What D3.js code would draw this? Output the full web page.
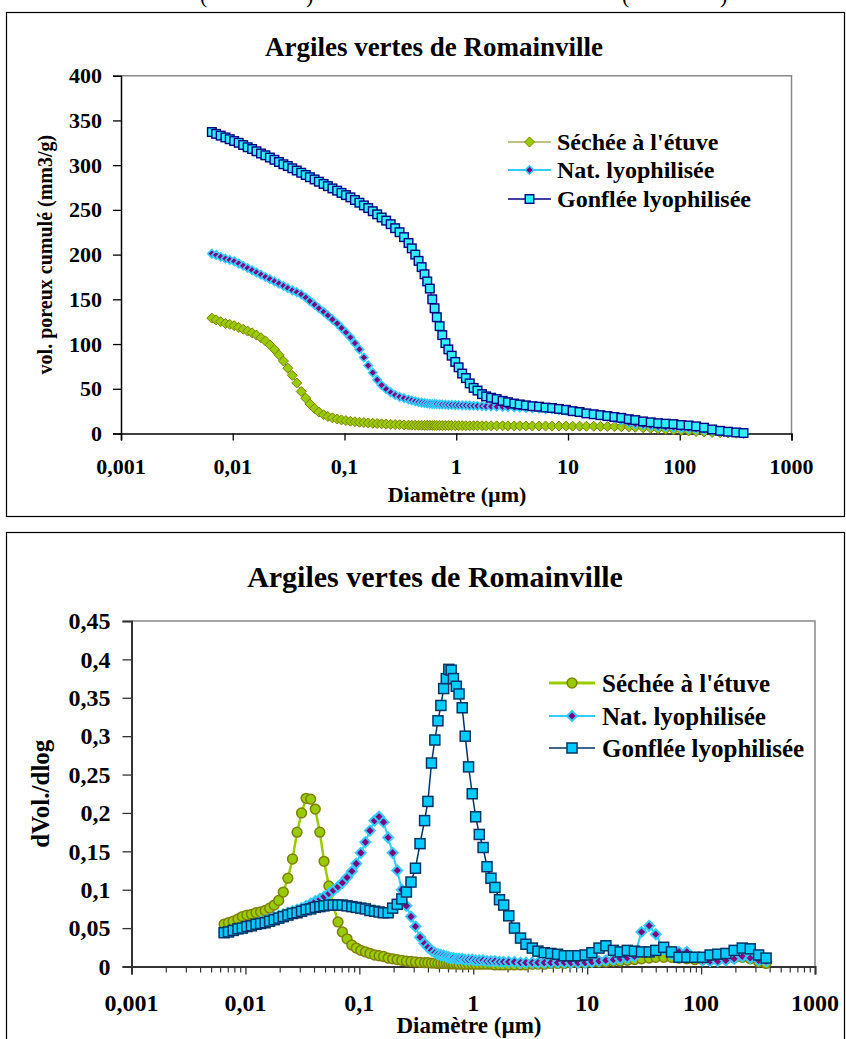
<!DOCTYPE html>
<html><head><meta charset="utf-8">
<script src="https://cdn.jsdelivr.net/npm/d3@7"></script>
<style>
body{margin:0;background:#fff}
svg{display:block}
text{font-family:"Liberation Serif","Times New Roman",serif;font-weight:bold;fill:#000}
</style>
</head><body>
<svg id="c" width="846" height="1039"></svg>
<script>
// ---------- DATA ----------
const chartTitle = "Argiles vertes de Romainville";
const seriesNames = ["Séchée à l'étuve", "Nat. lyophilisée", "Gonflée lyophilisée"];
const xTickValues = [0.001, 0.01, 0.1, 1, 10, 100, 1000];
const xTickLabels = ["0,001", "0,01", "0,1", "1", "10", "100", "1000"];
const cumTicks = [0, 50, 100, 150, 200, 250, 300, 350, 400];
const dlogTicks = [0, 0.05, 0.1, 0.15, 0.2, 0.25, 0.3, 0.35, 0.4, 0.45];
const dlogTickLabels = ["0", "0,05", "0,1", "0,15", "0,2", "0,25", "0,3", "0,35", "0,4", "0,45"];
const xTitle = "Diamètre (µm)";
const yTitleCum = "vol. poreux cumulé (mm3/g)";
const yTitleDlog = "dVol./dlog";

const diameters = [
 0.0065,0.0071,0.0078,0.0086,0.0094,0.0103,0.0113,0.0124,0.0136,0.0149,
 0.0163,0.0179,0.0196,0.0215,0.0236,0.0259,0.0284,0.0311,0.0341,0.0374,
 0.041,0.045,0.049,0.054,0.059,0.065,0.071,0.078,0.086,0.094,
 0.103,0.113,0.124,0.136,0.149,0.163,0.179,0.196,0.215,0.236,
 0.259,0.284,0.311,0.341,0.374,
 0.40,0.43,0.46,0.49,0.52,0.55,0.58,0.61,0.64,0.67,
 0.71,0.75,0.80,0.85,0.91,0.98,1.05,1.13,1.22,1.32,
 1.43,1.55,1.7,1.85,2.05,2.3,2.6,2.9,3.3,3.7,
 4.2,4.8,5.5,6.3,7.2,8.3,9.6,11,12.7,14.6,
 17,19.5,22.5,26,30,35,40,47,55,64,
 75,88,103,120,140,165,195,230,270,320,
 372
];

const cumSechee = [
 129,127,125,123,122,120.5,118.5,116.5,114.5,112.5,
 110,107,103.5,99,94,88,81,73,65,56.5,
 47,39.5,33,28,24,21,19,17.5,16.2,15.2,
 14.4,13.7,13.1,12.6,12.2,11.8,11.4,11.1,10.8,10.5,
 10.2,10,9.8,9.6,9.4,
 9.3,9.3,9.2,9.2,9.1,9.1,9.1,9.0,9.0,9.0,
 9.0,8.9,8.9,8.9,8.9,8.8,8.8,8.8,8.8,8.7,
 8.7,8.7,8.7,8.6,8.6,8.6,8.6,8.5,8.5,8.5,
 8.5,8.4,8.4,8.4,8.3,8.3,8.3,8.2,8.2,8.1,
 8.1,8.0,7.9,7.8,7.6,7.3,7.0,6.4,5.8,5.2,
 4.6,4.0,3.4,2.8,2.2,1.7,1.2,0.8,0.5,0.2,
 0
];

const cumNat = [
 201,199.5,197.5,195.5,194,192.5,190,187.5,185,182.5,
 180,177.5,175,172.5,170,167.5,165,162.5,160,158,
 155.5,152,148,144,140,136,132,127.5,123,118,
 113,107.5,101,94,85,76,68,60,54,49.5,
 46,43,41,39.5,38,
 37,36,35,34.5,34,33.5,33.3,33,33,32.8,
 32.6,32.4,32.2,32,32,31.8,31.6,31.5,31.4,31.2,
 31,30.8,30.6,30.4,30.2,30,29.8,29.5,29.2,29,
 28.6,28.2,27.8,27.3,26.8,26.2,25.5,24.6,23.8,22.8,
 21.6,20.4,19,17,14.5,12,10.5,9.5,8.5,7.5,
 7,6.5,6,5.5,4.8,4,3.2,2.4,1.6,0.8,
 0.2
];

const cumGonflee = [
 337,335,333,331,329,327,325,322.5,320,318,
 315.5,313,311,308.5,306,303.5,301,299,296.5,294,
 291.5,289,286.5,284,281.5,279,276.5,274,271.5,269,
 266.5,264,261,258,255,252,248.5,245,241.5,238,
 234,229.5,225,219.5,213,
 207,200,193,186,178,170,162,150,140,130,
 120,110,101,94,87,80,74,67,62,56,
 51,48,44,41.5,40,38.5,36.5,35,33.5,32.5,
 31.5,30.5,30,29,28.5,27.5,26.5,25,24,22.5,
 21.5,20.5,19.5,18.5,17.5,16,15,13.5,12.5,11.5,
 11,10.5,9.5,9,8,6.5,4.5,3,2,1.2,
 0.5
];

const dlogSechee = [
 0.055,0.057,0.059,0.062,0.065,0.067,0.068,0.070,0.071,0.073,
 0.076,0.080,0.086,0.097,0.115,0.140,0.175,0.200,0.219,0.218,
 0.205,0.175,0.137,0.105,0.080,0.058,0.045,0.036,0.028,0.024,
 0.021,0.019,0.017,0.015,0.014,0.013,0.011,0.010,0.009,0.008,
 0.007,0.0065,0.006,0.0055,0.005,
 0.005,0.0045,0.0045,0.004,0.004,0.004,0.004,0.0035,0.0035,0.0035,
 0.0035,0.003,0.003,0.003,0.003,0.003,0.003,0.003,0.003,0.003,
 0.003,0.002,0.002,0.002,0.002,0.002,0.002,0.002,0.003,0.003,
 0.003,0.004,0.004,0.004,0.005,0.005,0.005,0.006,0.006,0.006,
 0.007,0.007,0.008,0.009,0.010,0.011,0.012,0.012,0.012,0.011,
 0.010,0.009,0.009,0.009,0.009,0.010,0.011,0.012,0.010,0.006,
 0.004
];

const dlogNat = [
 0.045,0.046,0.047,0.049,0.051,0.052,0.054,0.056,0.058,0.060,
 0.062,0.064,0.066,0.068,0.070,0.072,0.074,0.076,0.079,0.082,
 0.085,0.088,0.091,0.095,0.099,0.104,0.109,0.116,0.124,0.134,
 0.148,0.162,0.177,0.190,0.195,0.188,0.168,0.148,0.125,0.100,
 0.079,0.065,0.052,0.038,0.030,
 0.025,0.021,0.018,0.016,0.015,0.014,0.013,0.012,0.011,0.011,
 0.010,0.010,0.010,0.009,0.009,0.009,0.008,0.008,0.008,0.007,
 0.007,0.007,0.006,0.006,0.006,0.006,0.005,0.005,0.005,0.005,
 0.005,0.005,0.005,0.005,0.005,0.005,0.005,0.006,0.007,0.008,
 0.009,0.010,0.011,0.013,0.045,0.053,0.042,0.022,0.016,0.019,
 0.019,0.012,0.008,0.007,0.007,0.008,0.010,0.013,0.011,0.008,
 0.007
];

const dlogGonflee = [
 0.044,0.045,0.047,0.049,0.050,0.052,0.053,0.055,0.056,0.057,
 0.059,0.061,0.063,0.065,0.067,0.069,0.070,0.072,0.074,0.075,
 0.077,0.078,0.079,0.080,0.080,0.080,0.080,0.079,0.078,0.077,
 0.076,0.075,0.073,0.072,0.071,0.070,0.070,0.076,0.081,0.088,
 0.097,0.110,0.128,0.160,0.190,
 0.215,0.265,0.295,0.320,0.340,0.362,0.375,0.387,0.386,0.375,
 0.365,0.355,0.337,0.300,0.260,0.225,0.195,0.172,0.155,0.130,
 0.115,0.103,0.087,0.080,0.066,0.050,0.037,0.029,0.024,0.020,
 0.018,0.017,0.016,0.014,0.014,0.014,0.015,0.018,0.024,0.027,
 0.021,0.019,0.021,0.020,0.019,0.019,0.021,0.025,0.019,0.012,
 0.012,0.012,0.012,0.015,0.016,0.017,0.021,0.024,0.023,0.015,
 0.011
];

// ---------- DRAWING ----------
const svg = d3.select("#c");

// cut-off caption fragments at the very top (only their lower ends are visible)
[["(",200],[")",306],["(",622],[")",720]].forEach(([t,x]) => {
  svg.append("text").attr("x", x).attr("y", 3).attr("font-size", 22)
     .style("font-weight","normal").text(t);
});

function zip(vals){ return diameters.map((d,i)=>({d, v: vals[i]})); }

function diamondPath(r){ return `M0,${-r}L${r},0L0,${r}L${-r},0Z`; }

function drawMarker(g, type, st){
  if (type === "diamond") {
    g.append("path").attr("d", diamondPath(st.r)).attr("fill", st.fill)
      .attr("stroke", st.stroke).attr("stroke-width", st.sw);
  } else if (type === "square") {
    g.append("rect").attr("x", -st.r).attr("y", -st.r).attr("width", 2*st.r).attr("height", 2*st.r)
      .attr("fill", st.fill).attr("stroke", st.stroke).attr("stroke-width", st.sw);
  } else {
    g.append("circle").attr("r", st.r).attr("fill", st.fill)
      .attr("stroke", st.stroke).attr("stroke-width", st.sw);
  }
}

function drawChart(cfg){
  // frame
  svg.append("rect").attr("x", cfg.frame[0]).attr("y", cfg.frame[1])
     .attr("width", cfg.frame[2]).attr("height", cfg.frame[3])
     .attr("fill", "#fff").attr("stroke", "#000").attr("stroke-width", 1.2);

  const x = d3.scaleLog().domain([0.001, 1000]).range([cfg.left, cfg.right]);
  const y = d3.scaleLinear().domain([0, cfg.yMax]).range([cfg.bottom, cfg.top]);

  // plot area border (top & right gray)
  svg.append("path")
     .attr("d", `M${cfg.left},${cfg.top}H${cfg.right}V${cfg.bottom}`)
     .attr("fill", "none").attr("stroke", "#888").attr("stroke-width", 1.5);

  // title
  svg.append("text").attr("x", cfg.titleX).attr("y", cfg.titleY)
     .attr("text-anchor", "middle").attr("font-size", cfg.titleSize).text(chartTitle);

  // y axis
  const yAxis = d3.axisLeft(y).tickValues(cfg.yTicks).tickSize(cfg.yTickLen).tickPadding(cfg.yPad)
     .tickFormat((d,i) => cfg.yLabels[i]);
  const ga = svg.append("g").attr("transform", `translate(${cfg.left},0)`).call(yAxis);
  ga.select(".domain").attr("stroke", cfg.axisColor).attr("stroke-width", cfg.axisW);
  ga.selectAll(".tick line").attr("stroke", cfg.axisColor).attr("stroke-width", 1.3);
  ga.selectAll(".tick text").attr("font-size", cfg.tickSize)
     .style("font-family", '"Liberation Serif",serif').style("font-weight","bold").attr("fill","#000");

  // x axis
  const xAxis = d3.axisBottom(x).tickValues(xTickValues).tickSize(cfg.xTickLen).tickFormat(()=>"");
  const gx = svg.append("g").attr("transform", `translate(0,${cfg.bottom})`).call(xAxis);
  gx.select(".domain").attr("stroke", cfg.axisColor).attr("stroke-width", cfg.axisW);
  gx.selectAll(".tick line").attr("stroke", cfg.axisColor).attr("stroke-width", 1.3);
  if (cfg.minor) {
    const minorVals = [];
    xTickValues.slice(0,-1).forEach(dec => { for (let k=2;k<=9;k++) minorVals.push(dec*k); });
    const gm = svg.append("g").attr("transform", `translate(0,${cfg.bottom})`)
       .call(d3.axisBottom(x).tickValues(minorVals).tickSize(cfg.minorLen).tickFormat(()=> ""));
    gm.select(".domain").remove();
    gm.selectAll(".tick line").attr("stroke", cfg.axisColor).attr("stroke-width", 1.2);
  }
  xTickValues.forEach((v,i) => {
    svg.append("text").attr("x", x(v)).attr("y", cfg.xLabelY).attr("text-anchor","middle")
       .attr("font-size", cfg.tickSize).text(xTickLabels[i]);
  });

  // axis titles
  svg.append("text").attr("x", cfg.xTitleX).attr("y", cfg.xTitleY).attr("text-anchor","middle")
     .attr("font-size", cfg.xTitleSize).text(xTitle);
  svg.append("text").attr("transform", `translate(${cfg.yTitleX},${(cfg.top+cfg.bottom)/2}) rotate(-90)`)
     .attr("text-anchor","middle").attr("dy","0.35em").attr("font-size", cfg.yTitleSize).text(cfg.yTitle);

  // series
  const line = d3.line().x(p => x(p.d)).y(p => y(p.v));
  cfg.series.forEach(s => {
    const pts = zip(s.values);
    svg.append("path").datum(pts).attr("d", line).attr("fill","none")
       .attr("stroke", s.lineColor).attr("stroke-width", s.lineW);
    const gm = svg.append("g");
    pts.forEach(p => {
      const g = gm.append("g").attr("transform", `translate(${x(p.d)},${y(p.v)})`);
      drawMarker(g, s.marker, s.mk);
    });
  });

  // legend
  cfg.series.forEach((s,i) => {
    const ly = cfg.legY[i];
    svg.append("line").attr("x1", cfg.legX1).attr("x2", cfg.legX2).attr("y1", ly).attr("y2", ly)
       .attr("stroke", s.lineColor).attr("stroke-width", s.legLineW || s.lineW);
    const g = svg.append("g").attr("transform", `translate(${(cfg.legX1+cfg.legX2)/2},${ly})`);
    drawMarker(g, s.marker, s.legMk || s.mk);
    svg.append("text").attr("x", cfg.legTextX).attr("y", ly).attr("dy","0.35em")
       .attr("font-size", cfg.legSize).text(seriesNames[i]);
  });
}

// ---- top chart: cumulative pore volume ----
drawChart({
  frame: [6.5, 12.5, 838, 504],
  left: 121, right: 791.5, top: 75.7, bottom: 433.5, yMax: 400,
  yTicks: cumTicks, yLabels: cumTicks.map(String),
  yTickLen: 8, yPad: 11, xTickLen: 7, minor: false,
  axisColor: "#000", axisW: 1.5,
  tickSize: 22, xLabelY: 474,
  titleX: 434, titleY: 56, titleSize: 27,
  xTitleX: 457, xTitleY: 502, xTitleSize: 22,
  yTitleX: 45, yTitle: yTitleCum, yTitleSize: 20,
  legX1: 508, legX2: 551, legTextX: 557, legY: [142, 170, 199], legSize: 24,
  series: [
    {values: cumSechee, lineColor: "#808000", lineW: 1, marker: "diamond",
     mk: {r: 5, fill: "#99cc00", stroke: "#808000", sw: 1}},
    {values: cumNat, lineColor: "#33ccff", lineW: 1, marker: "diamond",
     mk: {r: 4.2, fill: "#800080", stroke: "#33ccff", sw: 1.6}, legLineW: 2},
    {values: cumGonflee, lineColor: "#000080", lineW: 1, marker: "square",
     mk: {r: 4.3, fill: "#33eeff", stroke: "#000080", sw: 1.4}, legLineW: 1.5}
  ]
});

// ---- bottom chart: dVol/dlog ----
drawChart({
  frame: [6.5, 532.5, 838, 520],
  left: 131.5, right: 815, top: 621, bottom: 966.5, yMax: 0.45,
  yTicks: dlogTicks, yLabels: dlogTickLabels,
  yTickLen: 9, yPad: 12, xTickLen: 8, minor: true, minorLen: 6,
  axisColor: "#333", axisW: 2,
  tickSize: 24, xLabelY: 1011,
  titleX: 435, titleY: 587, titleSize: 30,
  xTitleX: 469, xTitleY: 1033, xTitleSize: 23,
  yTitleX: 40, yTitle: yTitleDlog, yTitleSize: 25,
  legX1: 549, legX2: 595, legTextX: 602, legY: [683, 716, 748], legSize: 25,
  series: [
    {values: dlogSechee, lineColor: "#99cc00", lineW: 2.5, marker: "circle",
     mk: {r: 4.9, fill: "#99cc00", stroke: "#808000", sw: 1.5}, legLineW: 3},
    {values: dlogNat, lineColor: "#33ccff", lineW: 2, marker: "diamond",
     mk: {r: 5, fill: "#800080", stroke: "#33ccff", sw: 2}},
    {values: dlogGonflee, lineColor: "#003366", lineW: 1.5, marker: "square",
     mk: {r: 5, fill: "#00ccff", stroke: "#003366", sw: 1.5}}
  ]
});
</script>
</body></html>
